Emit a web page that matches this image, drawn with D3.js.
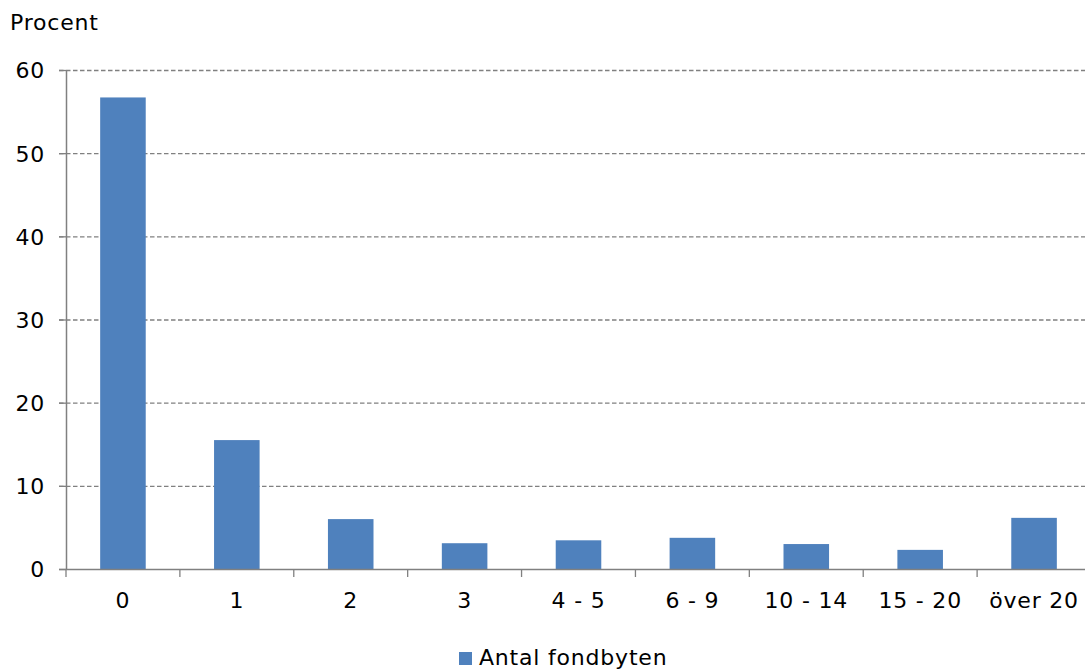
<!DOCTYPE html>
<html><head><meta charset="utf-8">
<script src="https://cdn.jsdelivr.net/npm/d3@7"></script>
<style>
body{margin:0;background:#fff;}
text{font-family:"DejaVu Sans",Verdana,sans-serif;font-size:22px;letter-spacing:0.8px;fill:#000;}
</style></head><body>
<svg id="c" width="1085" height="672"></svg>
<script>
const categories = ["0","1","2","3","4 - 5","6 - 9","10 - 14","15 - 20","över 20"];
const values = [56.7, 15.5, 6.0, 3.1, 3.45, 3.75, 3.0, 2.3, 6.15];
const yTicks = [0,10,20,30,40,50,60];
const seriesName = "Antal fondbyten";
const yLabel = "Procent";

const svg = d3.select("#c");
const m = {left:66, right:1091, top:70, bottom:569};
const x = d3.scaleBand().domain(categories).range([m.left, m.right]).paddingInner(0.6).paddingOuter(0.3);
const xb = d3.scaleBand().domain(categories).range([m.left, m.right]);
const y = d3.scaleLinear().domain([0,60]).range([m.bottom, m.top]);
const grey = "#808080";

// gridlines
svg.append("g").selectAll("line").data(yTicks.filter(d=>d>0)).join("line")
  .attr("x1", m.left-7).attr("x2", 1085).attr("y1", d=>y(d)+0.5).attr("y2", d=>y(d)+0.5)
  .attr("stroke", grey).attr("stroke-width",1.3).attr("stroke-dasharray","4.5,2.5");

// bars
svg.append("g").selectAll("rect").data(values).join("rect")
  .attr("x", (d,i)=>x(categories[i])).attr("width", x.bandwidth())
  .attr("y", d=>y(d)).attr("height", d=>y(0)-y(d)).attr("fill","#4f81bd");

// y axis
const ya = svg.append("g").attr("transform",`translate(${m.left},0)`)
  .call(d3.axisLeft(y).tickValues(yTicks).tickSize(7).tickPadding(16).tickSizeOuter(0));
ya.select(".domain").attr("stroke",grey).attr("stroke-width",1.5);
ya.selectAll(".tick line").attr("stroke",grey).attr("stroke-width",1.3);
ya.selectAll("text").attr("dy","0.36em").attr("dx","2");
ya.attr("font-size",null).attr("font-family",null);

// x axis
const xa = svg.append("g").attr("transform",`translate(0,${m.bottom})`)
  .call(d3.axisBottom(x).tickSize(0).tickPadding(23).tickSizeOuter(0));
xa.select(".domain").attr("stroke",grey).attr("stroke-width",1.5).attr("d",`M${m.left-7},0.5H${m.right}`);
xa.attr("font-size",null).attr("font-family",null);
xa.selectAll("text").attr("dy","0.71em");
svg.append("g").selectAll("line").data(categories.concat(["_end"])).join("line")
  .attr("x1",(d,i)=> i<categories.length ? xb(d) : m.right).attr("x2",(d,i)=> i<categories.length ? xb(d) : m.right)
  .attr("y1",m.bottom).attr("y2",m.bottom+8).attr("stroke",grey).attr("stroke-width",1.3);

// y label
svg.append("text").attr("x",10).attr("y",30).text(yLabel);

// legend
const lg = svg.append("g").attr("transform","translate(459,652)");
lg.append("rect").attr("width",13).attr("height",13).attr("fill","#4f81bd");
lg.append("text").attr("x",20).attr("y",13).text(seriesName);
</script></body></html>
